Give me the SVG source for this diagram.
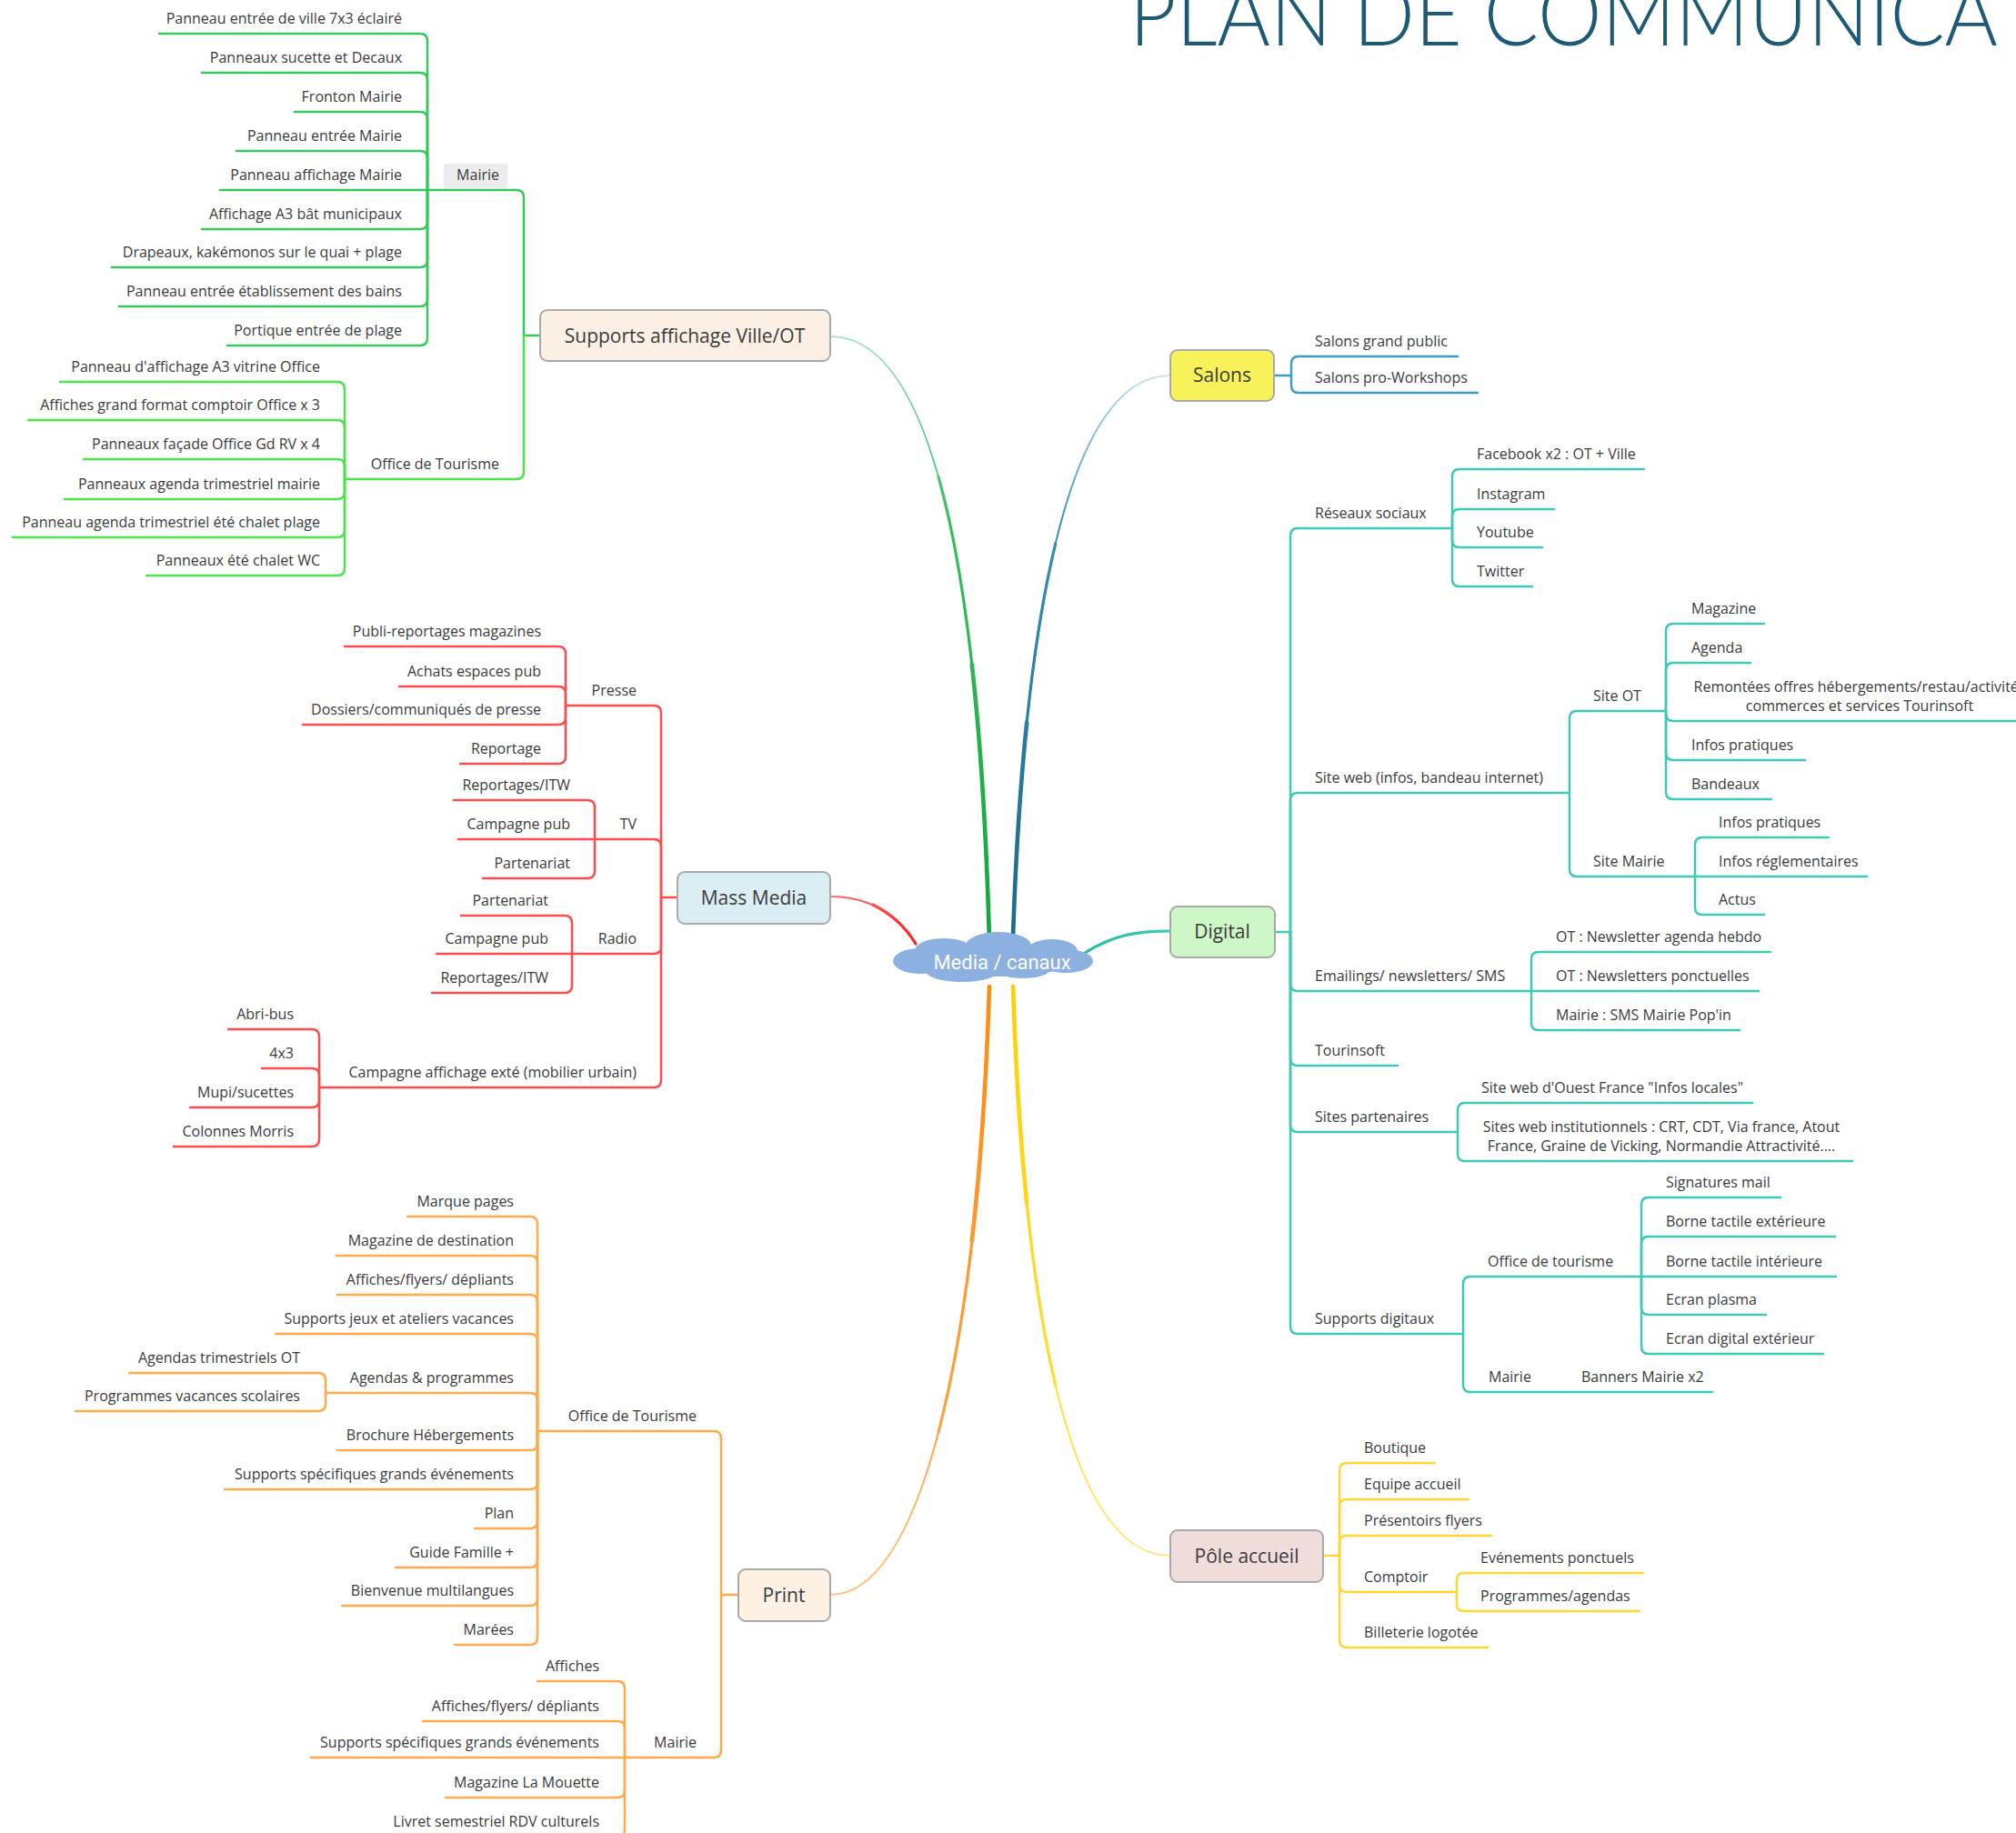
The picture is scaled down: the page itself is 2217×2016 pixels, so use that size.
<svg xmlns="http://www.w3.org/2000/svg" width="2217" height="2016" viewBox="0 0 2217 2016">
<style>
text{font-family:"Open Sans","Noto Sans","DejaVu Sans",sans-serif;fill:#3b3b3b}
.s{font-size:16px}
.e{text-anchor:end}
.m{text-anchor:middle}
.n{font-size:21px;text-anchor:middle}
.lines path{fill:none;stroke-width:2.5;stroke-linecap:round}
.main path{fill:none;stroke-linecap:round}
.w1{stroke-width:2}.w2{stroke-width:3.2}.w3{stroke-width:4.6}
.box{stroke:#a9a9a9;stroke-width:2}
.g1{stroke:#35c85a}.g2{stroke:#4ee24e}.r{stroke:#ff4d4d}.o{stroke:#ffab4a}
.b{stroke:#3a9ec2}.t{stroke:#3ccab6}.y{stroke:#ffd633}
.title{font-family:Lato,"Open Sans",sans-serif;font-weight:300;font-size:96px;fill:#1d5a75}
</style>
<defs>
<linearGradient id="gG" gradientUnits="userSpaceOnUse" x1="913" y1="370" x2="1088" y2="1035"><stop offset="0" stop-color="#b0e6cc"/><stop offset="0.3" stop-color="#3cc064"/><stop offset="1" stop-color="#10a83a"/></linearGradient>
<linearGradient id="gR" gradientUnits="userSpaceOnUse" x1="913" y1="986" x2="1007" y2="1038"><stop offset="0" stop-color="#ff7070"/><stop offset="1" stop-color="#ff2020"/></linearGradient>
<linearGradient id="gO" gradientUnits="userSpaceOnUse" x1="913" y1="1754" x2="1088" y2="1085"><stop offset="0" stop-color="#ffc88a"/><stop offset="0.35" stop-color="#ffa040"/><stop offset="1" stop-color="#ff8a10"/></linearGradient>
<linearGradient id="gB" gradientUnits="userSpaceOnUse" x1="1287" y1="413" x2="1114" y2="1030"><stop offset="0" stop-color="#cfe8f0"/><stop offset="0.3" stop-color="#3a90b5"/><stop offset="1" stop-color="#1a6a8c"/></linearGradient>
<linearGradient id="gT" gradientUnits="userSpaceOnUse" x1="1193" y1="1048" x2="1287" y2="1024"><stop offset="0" stop-color="#1fbfa3"/><stop offset="1" stop-color="#3ccab6"/></linearGradient>
<linearGradient id="gY" gradientUnits="userSpaceOnUse" x1="1287" y1="1711" x2="1114" y2="1085"><stop offset="0" stop-color="#ffea90"/><stop offset="0.35" stop-color="#ffdc30"/><stop offset="1" stop-color="#ffd000"/></linearGradient>
</defs>
<rect width="2217" height="2016" fill="#ffffff"/>
<text class="title" x="1242" y="50" textLength="955" lengthAdjust="spacingAndGlyphs">PLAN DE COMMUNICA</text>

<g id="connectors">
<g class="main">
<path class="w1" d="M913,370 C1010,370 1075,560 1088,1035" stroke="url(#gG)"/>
<path class="w2" d="M1032,524.4 C1062,631.25 1081.5,797.5 1088,1035" stroke="url(#gG)"/>
<path class="w3" d="M1068.8,730.7 C1078.25,815.3 1084.75,916.25 1088,1035" stroke="url(#gG)"/>
<path class="w1" d="M913,986 C960,986 990,1010 1007,1038" stroke="url(#gR)"/>
<path class="w2" d="M960,995 C980,1005 995,1018 1007,1038" stroke="url(#gR)"/>
<path class="w1" d="M913,1754 C1010,1754 1075,1500 1088,1085" stroke="url(#gO)"/>
<path class="w2" d="M1032,1575.1 C1062,1459.75 1081.5,1292.5 1088,1085" stroke="url(#gO)"/>
<path class="w3" d="M1068.8,1364.6 C1078.25,1282.4 1084.75,1188.75 1088,1085" stroke="url(#gO)"/>
<path class="w1" d="M1114,1030 C1125,700 1170,413 1287,413" stroke="url(#gB)"/>
<path class="w2" d="M1114,1030 C1119.5,865 1133.5,710.75 1160.75,597.75" stroke="url(#gB)"/>
<path class="w3" d="M1114,1030 C1116.75,947.5 1121.6,867.7 1129.2,794.4" stroke="url(#gB)"/>
<path class="w2" d="M1193,1048 C1225,1028 1250,1024 1287,1024" stroke="url(#gT)"/>
<path class="w1" d="M1114,1085 C1125,1420 1170,1711 1287,1711" stroke="url(#gY)"/>
<path class="w2" d="M1114,1085 C1119.5,1252.5 1133.5,1409 1160.75,1523.6" stroke="url(#gY)"/>
<path class="w3" d="M1114,1085 C1116.75,1168.75 1121.6,1249.75 1129.2,1324.1" stroke="url(#gY)"/>
</g>
<g class="lines">
<!-- Supports -->
<path class="g1" d="M594,369 H576"/>
<path class="g1" d="M576,369 V217 Q576,209 568,209 H470"/>
<path class="g2" d="M576,369 V519 Q576,527 568,527 H379"/>
<path class="g1" d="M470,209 V45 Q470,37 462,37 H175"/>
<path class="g1" d="M470,209 V88 Q470,80 462,80 H222"/>
<path class="g1" d="M470,209 V131 Q470,123 462,123 H324"/>
<path class="g1" d="M470,209 V174 Q470,166 462,166 H260"/>
<path class="g1" d="M470,209 H242"/>
<path class="g1" d="M470,209 V244 Q470,252 462,252 H222"/>
<path class="g1" d="M470,209 V286 Q470,294 462,294 H123"/>
<path class="g1" d="M470,209 V329 Q470,337 462,337 H131"/>
<path class="g1" d="M470,209 V372 Q470,380 462,380 H250"/>
<path class="g2" d="M379,527 V428 Q379,420 371,420 H66"/>
<path class="g2" d="M379,527 V470 Q379,462 371,462 H31"/>
<path class="g2" d="M379,527 V513 Q379,505 371,505 H92"/>
<path class="g2" d="M379,527 V541 Q379,549 371,549 H71"/>
<path class="g2" d="M379,527 V583 Q379,591 371,591 H14"/>
<path class="g2" d="M379,527 V625 Q379,633 371,633 H161"/>
<!-- Mass Media -->
<path class="r" d="M745,987 H727"/>
<path class="r" d="M727,987 V784 Q727,776 719,776 H622"/>
<path class="r" d="M727,987 V931 Q727,923 719,923 H654"/>
<path class="r" d="M727,987 V1041 Q727,1049 719,1049 H629"/>
<path class="r" d="M727,987 V1188 Q727,1196 719,1196 H351"/>
<path class="r" d="M622,776 V719 Q622,711 614,711 H379"/>
<path class="r" d="M622,776 V763 Q622,755 614,755 H439"/>
<path class="r" d="M622,776 V789 Q622,797 614,797 H333"/>
<path class="r" d="M622,776 V832 Q622,840 614,840 H506"/>
<path class="r" d="M654,923 V888 Q654,880 646,880 H499"/>
<path class="r" d="M654,923 H504"/>
<path class="r" d="M654,923 V958 Q654,966 646,966 H531"/>
<path class="r" d="M629,1049 V1015 Q629,1007 621,1007 H507"/>
<path class="r" d="M629,1049 H480"/>
<path class="r" d="M629,1049 V1084 Q629,1092 621,1092 H475"/>
<path class="r" d="M351,1196 V1140 Q351,1132 343,1132 H251"/>
<path class="r" d="M351,1196 V1183 Q351,1175 343,1175 H288"/>
<path class="r" d="M351,1196 V1210 Q351,1218 343,1218 H209"/>
<path class="r" d="M351,1196 V1253 Q351,1261 343,1261 H191"/>
<!-- Print -->
<path class="o" d="M812,1754 H793"/>
<path class="o" d="M793,1754 V1582 Q793,1574 785,1574 H591"/>
<path class="o" d="M793,1754 V1925 Q793,1933 785,1933 H687"/>
<path class="o" d="M591,1574 V1346 Q591,1338 583,1338 H448"/>
<path class="o" d="M591,1574 V1389 Q591,1381 583,1381 H370"/>
<path class="o" d="M591,1574 V1432 Q591,1424 583,1424 H371"/>
<path class="o" d="M591,1574 V1475 Q591,1467 583,1467 H303"/>
<path class="o" d="M591,1574 V1540 Q591,1532 583,1532 H358"/>
<path class="o" d="M591,1574 V1587 Q591,1595 583,1595 H371"/>
<path class="o" d="M591,1574 V1630 Q591,1638 583,1638 H247"/>
<path class="o" d="M591,1574 V1673 Q591,1681 583,1681 H522"/>
<path class="o" d="M591,1574 V1716 Q591,1724 583,1724 H435"/>
<path class="o" d="M591,1574 V1758 Q591,1766 583,1766 H376"/>
<path class="o" d="M591,1574 V1801 Q591,1809 583,1809 H500"/>
<path class="o" d="M358,1532 V1518 Q358,1510 350,1510 H142"/>
<path class="o" d="M358,1532 V1544 Q358,1552 350,1552 H83"/>
<path class="o" d="M687,1933 V1857 Q687,1849 679,1849 H591"/>
<path class="o" d="M687,1933 V1901 Q687,1893 679,1893 H465"/>
<path class="o" d="M687,1933 H342"/>
<path class="o" d="M687,1933 V1969 Q687,1977 679,1977 H490"/>
<path class="o" d="M687,1933 V2012 Q687,2020 679,2020 H430"/>
<!-- Salons -->
<path class="b" d="M1401,413 H1420"/>
<path class="b" d="M1420,413 V400 Q1420,392 1428,392 H1603"/>
<path class="b" d="M1420,413 V424 Q1420,432 1428,432 H1625"/>
<!-- Digital -->
<path class="t" d="M1402,1025 H1419"/>
<path class="t" d="M1419,1025 V589 Q1419,581 1427,581 H1597"/>
<path class="t" d="M1419,1025 V880 Q1419,872 1427,872 H1726"/>
<path class="t" d="M1419,1025 V1082 Q1419,1090 1427,1090 H1684"/>
<path class="t" d="M1419,1025 V1164 Q1419,1172 1427,1172 H1537"/>
<path class="t" d="M1419,1025 V1237 Q1419,1245 1427,1245 H1603"/>
<path class="t" d="M1419,1025 V1459 Q1419,1467 1427,1467 H1609"/>
<path class="t" d="M1597,581 V524 Q1597,516 1605,516 H1808"/>
<path class="t" d="M1597,581 V568 Q1597,560 1605,560 H1709"/>
<path class="t" d="M1597,581 V594 Q1597,602 1605,602 H1696"/>
<path class="t" d="M1597,581 V637 Q1597,645 1605,645 H1685"/>
<path class="t" d="M1726,872 V790 Q1726,782 1734,782 H1832"/>
<path class="t" d="M1726,872 V956 Q1726,964 1734,964 H1864"/>
<path class="t" d="M1832,782 V694 Q1832,686 1840,686 H1940"/>
<path class="t" d="M1832,782 V737 Q1832,729 1840,729 H1925"/>
<path class="t" d="M1832,782 V785 Q1832,793 1840,793 H2217"/>
<path class="t" d="M1832,782 V828 Q1832,836 1840,836 H1985"/>
<path class="t" d="M1832,782 V871 Q1832,879 1840,879 H1948"/>
<path class="t" d="M1864,964 V929 Q1864,921 1872,921 H2011"/>
<path class="t" d="M1864,964 H2053"/>
<path class="t" d="M1864,964 V998 Q1864,1006 1872,1006 H1940"/>
<path class="t" d="M1684,1090 V1055 Q1684,1047 1692,1047 H1947"/>
<path class="t" d="M1684,1090 H1934"/>
<path class="t" d="M1684,1090 V1125 Q1684,1133 1692,1133 H1913"/>
<path class="t" d="M1603,1245 V1221 Q1603,1213 1611,1213 H1927"/>
<path class="t" d="M1603,1245 V1269 Q1603,1277 1611,1277 H2037"/>
<path class="t" d="M1609,1467 V1412 Q1609,1404 1617,1404 H1805"/>
<path class="t" d="M1609,1467 V1523 Q1609,1531 1617,1531 H1727"/>
<path class="t" d="M1805,1404 V1325 Q1805,1317 1813,1317 H1958"/>
<path class="t" d="M1805,1404 V1368 Q1805,1360 1813,1360 H2018"/>
<path class="t" d="M1805,1404 H2019"/>
<path class="t" d="M1805,1404 V1438 Q1805,1446 1813,1446 H1942"/>
<path class="t" d="M1805,1404 V1481 Q1805,1489 1813,1489 H2005"/>
<path class="t" d="M1727,1531 H1883"/>
<!-- Pôle accueil -->
<path class="y" d="M1455,1711 H1473"/>
<path class="y" d="M1473,1711 V1617 Q1473,1609 1481,1609 H1578"/>
<path class="y" d="M1473,1711 V1657 Q1473,1649 1481,1649 H1615"/>
<path class="y" d="M1473,1711 V1697 Q1473,1689 1481,1689 H1640"/>
<path class="y" d="M1473,1711 V1743 Q1473,1751 1481,1751 H1602"/>
<path class="y" d="M1473,1711 V1804 Q1473,1812 1481,1812 H1636"/>
<path class="y" d="M1602,1751 V1738 Q1602,1730 1610,1730 H1807"/>
<path class="y" d="M1602,1751 V1764 Q1602,1772 1610,1772 H1803"/>
</g>
</g>

<g id="center">
<g fill="#8cb0e0">
<ellipse cx="1092" cy="1057" rx="88" ry="17"/>
<ellipse cx="1012" cy="1057" rx="30" ry="14"/>
<ellipse cx="1172" cy="1057" rx="30" ry="13"/>
<ellipse cx="1038" cy="1045" rx="32" ry="13"/>
<ellipse cx="1098" cy="1040" rx="36" ry="15"/>
<ellipse cx="1157" cy="1046" rx="28" ry="13"/>
<ellipse cx="1058" cy="1068" rx="40" ry="12"/>
<ellipse cx="1125" cy="1066" rx="30" ry="10"/>
</g>
<text x="1102" y="1066" class="m" style="font-size:22px;fill:#ffffff;font-family:Roboto,'Open Sans',sans-serif">Media / canaux</text>
</g>

<g id="supports">
<rect class="box" x="594" y="341" width="319" height="56" rx="8" fill="#fcefe4"/>
<text class="n" x="753" y="377">Supports affichage Ville/OT</text>
<g id="supports-mairie">
<rect x="488" y="180" width="70" height="27" fill="#ececec"/>
<text class="s e" x="549" y="198">Mairie</text>
<text class="s e" x="442" y="26">Panneau entrée de ville 7x3 éclairé</text>
<text class="s e" x="442" y="69">Panneaux sucette et Decaux</text>
<text class="s e" x="442" y="112">Fronton Mairie</text>
<text class="s e" x="442" y="155">Panneau entrée Mairie</text>
<text class="s e" x="442" y="198">Panneau affichage Mairie</text>
<text class="s e" x="442" y="241">Affichage A3 bât municipaux</text>
<text class="s e" x="442" y="283">Drapeaux, kakémonos sur le quai + plage</text>
<text class="s e" x="442" y="326">Panneau entrée établissement des bains</text>
<text class="s e" x="442" y="369">Portique entrée de plage</text>
</g>
<g id="supports-ot">
<text class="s e" x="549" y="516">Office de Tourisme</text>
<text class="s e" x="352" y="409">Panneau d'affichage A3 vitrine Office</text>
<text class="s e" x="352" y="451">Affiches grand format comptoir Office x 3</text>
<text class="s e" x="352" y="494">Panneaux façade Office Gd RV x 4</text>
<text class="s e" x="352" y="538">Panneaux agenda trimestriel mairie</text>
<text class="s e" x="352" y="580">Panneau agenda trimestriel été chalet plage</text>
<text class="s e" x="352" y="622">Panneaux été chalet WC</text>
</g>
</g>

<g id="massmedia">
<rect class="box" x="745" y="959" width="168" height="57" rx="8" fill="#dbeef3"/>
<text class="n" x="829" y="995">Mass Media</text>
<text class="s e" x="700" y="765">Presse</text>
<text class="s e" x="595" y="700">Publi-reportages magazines</text>
<text class="s e" x="595" y="744">Achats espaces pub</text>
<text class="s e" x="595" y="786">Dossiers/communiqués de presse</text>
<text class="s e" x="595" y="829">Reportage</text>
<text class="s e" x="700" y="912">TV</text>
<text class="s e" x="627" y="869">Reportages/ITW</text>
<text class="s e" x="627" y="912">Campagne pub</text>
<text class="s e" x="627" y="955">Partenariat</text>
<text class="s e" x="700" y="1038">Radio</text>
<text class="s e" x="603" y="996">Partenariat</text>
<text class="s e" x="603" y="1038">Campagne pub</text>
<text class="s e" x="603" y="1081">Reportages/ITW</text>
<text class="s e" x="700" y="1185">Campagne affichage exté (mobilier urbain)</text>
<text class="s e" x="323" y="1121">Abri-bus</text>
<text class="s e" x="323" y="1164">4x3</text>
<text class="s e" x="323" y="1207">Mupi/sucettes</text>
<text class="s e" x="323" y="1250">Colonnes Morris</text>
</g>

<g id="print">
<rect class="box" x="812" y="1726" width="101" height="57" rx="8" fill="#fdf1e3"/>
<text class="n" x="862" y="1762">Print</text>
<text class="s e" x="766" y="1563">Office de Tourisme</text>
<text class="s e" x="565" y="1327">Marque pages</text>
<text class="s e" x="565" y="1370">Magazine de destination</text>
<text class="s e" x="565" y="1413">Affiches/flyers/ dépliants</text>
<text class="s e" x="565" y="1456">Supports jeux et ateliers vacances</text>
<text class="s e" x="565" y="1521">Agendas &amp; programmes</text>
<text class="s e" x="330" y="1499">Agendas trimestriels OT</text>
<text class="s e" x="330" y="1541">Programmes vacances scolaires</text>
<text class="s e" x="565" y="1584">Brochure Hébergements</text>
<text class="s e" x="565" y="1627">Supports spécifiques grands événements</text>
<text class="s e" x="565" y="1670">Plan</text>
<text class="s e" x="565" y="1713">Guide Famille +</text>
<text class="s e" x="565" y="1755">Bienvenue multilangues</text>
<text class="s e" x="565" y="1798">Marées</text>
<text class="s e" x="766" y="1922">Mairie</text>
<text class="s e" x="659" y="1838">Affiches</text>
<text class="s e" x="659" y="1882">Affiches/flyers/ dépliants</text>
<text class="s e" x="659" y="1922">Supports spécifiques grands événements</text>
<text class="s e" x="659" y="1966">Magazine La Mouette</text>
<text class="s e" x="659" y="2009">Livret semestriel RDV culturels</text>
</g>

<g id="salons">
<rect class="box" x="1287" y="385" width="114" height="56" rx="8" fill="#f7f25a"/>
<text class="n" x="1344" y="420">Salons</text>
<text class="s" x="1446" y="381">Salons grand public</text>
<text class="s" x="1446" y="421">Salons pro-Workshops</text>
</g>

<g id="digital">
<rect class="box" x="1287" y="997" width="115" height="56" rx="8" fill="#cdf7c6"/>
<text class="n" x="1344" y="1032">Digital</text>
<text class="s" x="1446" y="570">Réseaux sociaux</text>
<text class="s" x="1624" y="505">Facebook x2 : OT + Ville</text>
<text class="s" x="1624" y="549">Instagram</text>
<text class="s" x="1624" y="591">Youtube</text>
<text class="s" x="1624" y="634">Twitter</text>
<text class="s" x="1446" y="861">Site web (infos, bandeau internet)</text>
<text class="s" x="1752" y="771">Site OT</text>
<text class="s" x="1860" y="675">Magazine</text>
<text class="s" x="1860" y="718">Agenda</text>
<text class="s m" x="2045" y="761">Remontées offres hébergements/restau/activités</text>
<text class="s m" x="2045" y="782">commerces et services Tourinsoft</text>
<text class="s" x="1860" y="825">Infos pratiques</text>
<text class="s" x="1860" y="868">Bandeaux</text>
<text class="s" x="1752" y="953">Site Mairie</text>
<text class="s" x="1890" y="910">Infos pratiques</text>
<text class="s" x="1890" y="953">Infos réglementaires</text>
<text class="s" x="1890" y="995">Actus</text>
<text class="s" x="1446" y="1079">Emailings/ newsletters/ SMS</text>
<text class="s" x="1711" y="1036">OT : Newsletter agenda hebdo</text>
<text class="s" x="1711" y="1079">OT : Newsletters ponctuelles</text>
<text class="s" x="1711" y="1122">Mairie : SMS Mairie Pop'in</text>
<text class="s" x="1446" y="1161">Tourinsoft</text>
<text class="s" x="1446" y="1234">Sites partenaires</text>
<text class="s" x="1629" y="1202">Site web d'Ouest France "Infos locales"</text>
<text class="s m" x="1827" y="1245">Sites web institutionnels : CRT, CDT, Via france, Atout</text>
<text class="s m" x="1827" y="1266">France, Graine de Vicking, Normandie Attractivité....</text>
<text class="s" x="1446" y="1456">Supports digitaux</text>
<text class="s" x="1636" y="1393">Office de tourisme</text>
<text class="s" x="1832" y="1306">Signatures mail</text>
<text class="s" x="1832" y="1349">Borne tactile extérieure</text>
<text class="s" x="1832" y="1393">Borne tactile intérieure</text>
<text class="s" x="1832" y="1435">Ecran plasma</text>
<text class="s" x="1832" y="1478">Ecran digital extérieur</text>
<text class="s" x="1637" y="1520">Mairie</text>
<text class="s" x="1739" y="1520">Banners Mairie x2</text>
</g>

<g id="pole">
<rect class="box" x="1287" y="1683" width="168" height="57" rx="8" fill="#f1dcdc"/>
<text class="n" x="1371" y="1719">Pôle accueil</text>
<text class="s" x="1500" y="1598">Boutique</text>
<text class="s" x="1500" y="1638">Equipe accueil</text>
<text class="s" x="1500" y="1678">Présentoirs flyers</text>
<text class="s" x="1500" y="1740">Comptoir</text>
<text class="s" x="1628" y="1719">Evénements ponctuels</text>
<text class="s" x="1628" y="1761">Programmes/agendas</text>
<text class="s" x="1500" y="1801">Billeterie logotée</text>
</g>
</svg>
